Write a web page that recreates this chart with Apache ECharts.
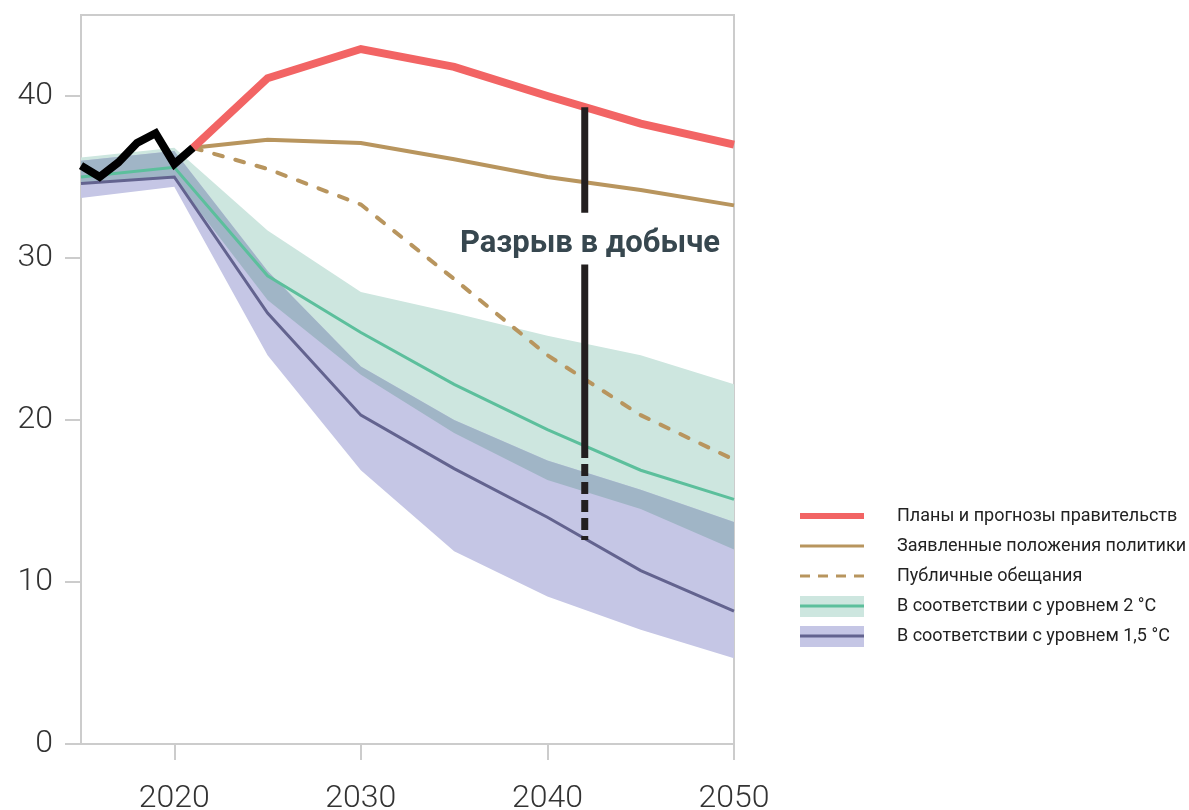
<!DOCTYPE html>
<html><head><meta charset="utf-8">
<script src="https://cdn.jsdelivr.net/npm/echarts@6/dist/echarts.min.js"></script>
<style>html,body{margin:0;padding:0;background:#fff}#c{width:1189px;height:810px}</style>
</head><body><div id="c"></div>
<script>
// Historical production
const histYears = [2015, 2016, 2017, 2018, 2019, 2020, 2021];
const histValues = [35.7, 35.0, 35.9, 37.1, 37.7, 35.8, 36.8];
// Projections
const projYears = [2021, 2025, 2030, 2035, 2040, 2045, 2050];
const govPlans = [36.8, 41.1, 42.9, 41.8, 40.0, 38.3, 37.0];
const statedPolicies = [36.8, 37.3, 37.1, 36.1, 35.0, 34.2, 33.25];
const pledges = [36.8, 35.5, 33.3, 28.7, 24.0, 20.3, 17.55];
// Pathways
const pathYears = [2015, 2020, 2025, 2030, 2035, 2040, 2045, 2050];
const c2Mid = [35.0, 35.6, 28.9, 25.4, 22.2, 19.4, 16.9, 15.1];
const c2High = [36.2, 36.8, 31.7, 27.9, 26.6, 25.2, 24.0, 22.2];
const c2Low = [34.6, 34.9, 27.4, 22.8, 19.2, 16.3, 14.5, 12.0];
const c15Mid = [34.6, 35.0, 26.6, 20.3, 17.0, 14.0, 10.7, 8.2];
const c15High = [36.0, 36.6, 29.2, 23.3, 20.0, 17.5, 15.7, 13.7];
const c15Low = [33.7, 34.4, 24.0, 16.9, 11.9, 9.1, 7.05, 5.3];
// Production gap marker (year, values)
const gapYear = 2042;
const gapTop = [39.3, 32.8];
const gapMid = [29.6, 18.4];
const gapDash = [18.4, 12.6];
// Ticks
const xTicks = [2020, 2030, 2040, 2050];
const yTicks = [0, 10, 20, 30, 40];
const legendNames = ['Планы и прогнозы правительств', 'Заявленные положения политики', 'Публичные обещания', 'В соответствии с уровнем 2 °C', 'В соответствии с уровнем 1,5 °C'];
const gapLabel = 'Разрыв в добыче';

const overlapLow = pathYears.map((_, i) => Math.max(c2Low[i], c15Low[i]));
const overlapHigh = pathYears.map((_, i) => Math.min(c2High[i], c15High[i]));

function pairs(xs, ys) { return xs.map((x, i) => [x, ys[i]]); }
function band(name, low, high, color, z) {
  return {
    type: 'custom', name: name, z: z, silent: true,
    data: [[pathYears[0], low[0]]],
    renderItem: function (params, api) {
      const pts = [];
      for (let i = 0; i < pathYears.length; i++) pts.push(api.coord([pathYears[i], high[i]]));
      for (let i = pathYears.length - 1; i >= 0; i--) pts.push(api.coord([pathYears[i], low[i]]));
      return { type: 'polygon', shape: { points: pts }, style: { fill: color } };
    }
  };
}
function line(data, color, width, z, type, cap) {
  return {
    type: 'line', data: data, z: z, symbol: 'none', silent: true, animation: false,
    lineStyle: { color: color, width: width, type: type || 'solid', cap: cap || 'butt', join: 'miter' }
  };
}

const chart = echarts.init(document.getElementById('c'), null, { renderer: 'canvas' });
const axisFont = { fontFamily: 'Roboto', fontWeight: 300, fontSize: 32, color: '#333' };

// legend graphics
const lg = [];
const lgY = [516, 546, 576, 606, 636];
lg.push({ type: 'line', shape: { x1: 800, y1: lgY[0], x2: 864, y2: lgY[0] }, style: { stroke: '#f26464', lineWidth: 6 } });
lg.push({ type: 'line', shape: { x1: 800, y1: lgY[1], x2: 864, y2: lgY[1] }, style: { stroke: '#b8955e', lineWidth: 3 } });
lg.push({ type: 'line', shape: { x1: 800, y1: lgY[2], x2: 864, y2: lgY[2] }, style: { stroke: '#b8955e', lineWidth: 3, lineDash: [10, 8] } });
lg.push({ type: 'rect', shape: { x: 800, y: lgY[3] - 10, width: 64, height: 21 }, style: { fill: '#cde6df' } });
lg.push({ type: 'line', shape: { x1: 800, y1: lgY[3], x2: 864, y2: lgY[3] }, style: { stroke: '#5cbf9c', lineWidth: 3 } });
lg.push({ type: 'rect', shape: { x: 800, y: lgY[4] - 10, width: 64, height: 21 }, style: { fill: '#c5c6e5' } });
lg.push({ type: 'line', shape: { x1: 800, y1: lgY[4], x2: 864, y2: lgY[4] }, style: { stroke: '#63638f', lineWidth: 3 } });
legendNames.forEach((n, i) => {
  lg.push({ type: 'text', x: 897, y: lgY[i], style: { text: n, fontFamily: 'Roboto', fontSize: 18, fill: '#222', verticalAlign: 'middle', align: 'left' } });
});

chart.setOption({
  animation: false,
  backgroundColor: '#fff',
  grid: { left: 81, right: 455, top: 15, bottom: 66, outerBoundsMode: 'none', containLabel: false, show: true, borderColor: '#cccccc', borderWidth: 2, backgroundColor: 'transparent' },
  xAxis: {
    type: 'value', min: 2015, max: 2050,
    axisLine: { show: true, onZero: false, lineStyle: { color: '#cccccc', width: 2 } },
    axisTick: { show: true, length: 16, lineStyle: { color: '#cccccc', width: 2 }, customValues: xTicks },
    axisLabel: Object.assign({ margin: 39, customValues: xTicks, formatter: v => String(v) }, axisFont),
    splitLine: { show: false }
  },
  yAxis: {
    type: 'value', min: 0, max: 45,
    axisLine: { show: true, lineStyle: { color: '#cccccc', width: 2 } },
    axisTick: { show: true, length: 16, lineStyle: { color: '#cccccc', width: 2 }, customValues: yTicks },
    axisLabel: Object.assign({ margin: 28, customValues: yTicks }, axisFont),
    splitLine: { show: false }
  },
  graphic: lg.concat([{
    type: 'text', x: 590, y: 244, z: 100,
    style: { text: gapLabel, fontFamily: 'Roboto', fontWeight: 'bold', fontSize: 31, fill: '#37474f', align: 'center', verticalAlign: 'middle' }
  }]),
  series: [
    band('c2band', c2Low, c2High, '#cde6df', 1),
    band('c15band', c15Low, c15High, '#c5c6e5', 1),
    band('overlap', overlapLow, overlapHigh, '#a0b5c6', 1),
    line(pairs(pathYears, c2Mid), '#5cbf9c', 3, 3),
    line(pairs(pathYears, c15Mid), '#63638f', 3, 3),
    line(pairs(projYears, statedPolicies), '#b8955e', 4, 4),
    line(pairs(projYears, pledges), '#b8955e', 4, 4, [9, 13], 'round'),
    line(pairs(projYears, govPlans), '#f26464', 8, 5),
    line(pairs(histYears, histValues), '#000000', 8, 6),
    line([[gapYear, gapTop[0]], [gapYear, gapTop[1]]], '#231f20', 7, 7),
    line([[gapYear, gapMid[0]], [gapYear, gapMid[1]]], '#231f20', 7, 7),
    line([[gapYear, gapDash[0]], [gapYear, gapDash[1]]], '#231f20', 7, 7, [12, 6])
  ]
});
</script></body></html>
